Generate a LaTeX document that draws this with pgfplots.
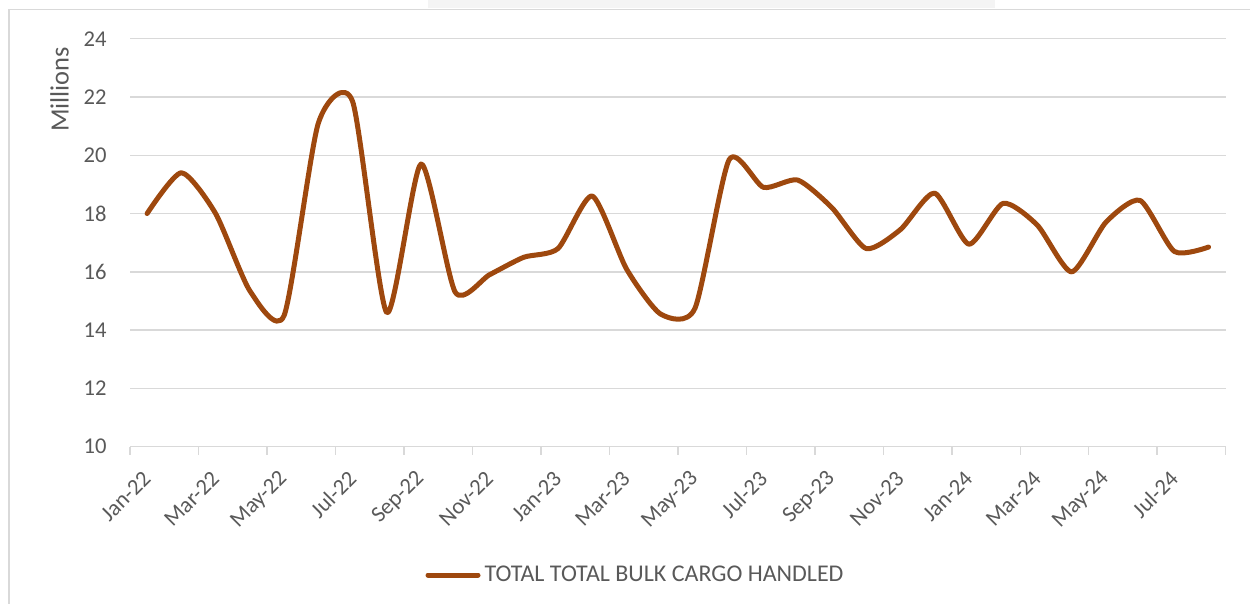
\documentclass[border=0pt]{standalone}
\usepackage{fontspec}
\setmainfont{Carlito}
\usepackage{pgfplots}
\pgfplotsset{compat=1.18}

\definecolor{cargo}{HTML}{9E480E}
\definecolor{gridgray}{HTML}{D9D9D9}
\definecolor{labelgray}{HTML}{595959}
\definecolor{framegray}{HTML}{D9D9D9}
\definecolor{bandgray}{HTML}{F4F4F4}

\newcommand{\tickfont}{\fontsize{11.3}{13}\selectfont}
\newcommand{\legendfont}{\fontsize{12}{14}\selectfont}
\newcommand{\titlefont}{\fontsize{13.2}{15}\selectfont}

\begin{document}
\begin{tikzpicture}
% canvas and chart frame
\path[use as bounding box] (0pt,0pt) rectangle (625pt,302pt);
\fill[bandgray] (214pt,302pt) rectangle (497.5pt,297.75pt);
\draw[framegray, line width=0.75pt] (4.5pt,-3pt) -- (4.5pt,297.25pt) -- (628pt,297.25pt);

\begin{axis}[
  at={(65pt,78.65pt)}, anchor=south west,
  scale only axis, width=547.85pt, height=204pt,
  xmin=-0.5, xmax=31.5, ymin=10, ymax=24,
  ytick={10,12,...,24},
  xtick={0,2,...,30},
  xticklabels={Jan-22,Mar-22,May-22,Jul-22,Sep-22,Nov-22,Jan-23,Mar-23,May-23,Jul-23,Sep-23,Nov-23,Jan-24,Mar-24,May-24,Jul-24},
  minor xtick={-0.5,1.5,...,31.5},
  major tick length=0pt, minor tick length=4pt,
  tick align=outside, tick pos=left,
  minor x tick style={draw=gridgray, line width=0.75pt},
  axis line style={draw=none},
  ymajorgrids, grid style={draw=gridgray, line width=0.75pt},
  /pgf/number format/assume math mode=true,
  yticklabel style={font=\tickfont, text=labelgray, inner sep=0pt, anchor=east, xshift=-11.5pt},
  xticklabel style={font=\tickfont, text=labelgray, inner sep=0pt, rotate=45, anchor=east, xshift=-10pt, yshift=-10pt},
  legend style={at={(0.4623,-0.3145)}, anchor=center, draw=none, fill=none,
    font=\legendfont, text=labelgray},
  legend image code/.code={\draw[#1, line cap=round] (0pt,0pt) -- (25pt,0pt);},
]
\addplot[cargo, line width=2.5pt, smooth, tension=0.4, line cap=round, line join=round]
  table {
x y
0  18.0
1  19.4
2  18.0
3  15.35
4  14.5
5  21.1
6  21.85
7  14.6
8  19.7
9  15.3
10 15.9
11 16.5
12 16.8
13 18.6
14 16.1
15 14.55
16 14.75
17 19.85
18 18.9
19 19.15
20 18.2
21 16.8
22 17.45
23 18.7
24 16.95
25 18.35
26 17.6
27 16.0
28 17.7
29 18.45
30 16.7
31 16.85
};
\addlegendentry{TOTAL TOTAL BULK CARGO HANDLED}
\end{axis}

\node[rotate=90, font=\titlefont, text=labelgray, inner sep=0pt] at (29.75pt,257.25pt) {Millions};
\end{tikzpicture}
\end{document}
